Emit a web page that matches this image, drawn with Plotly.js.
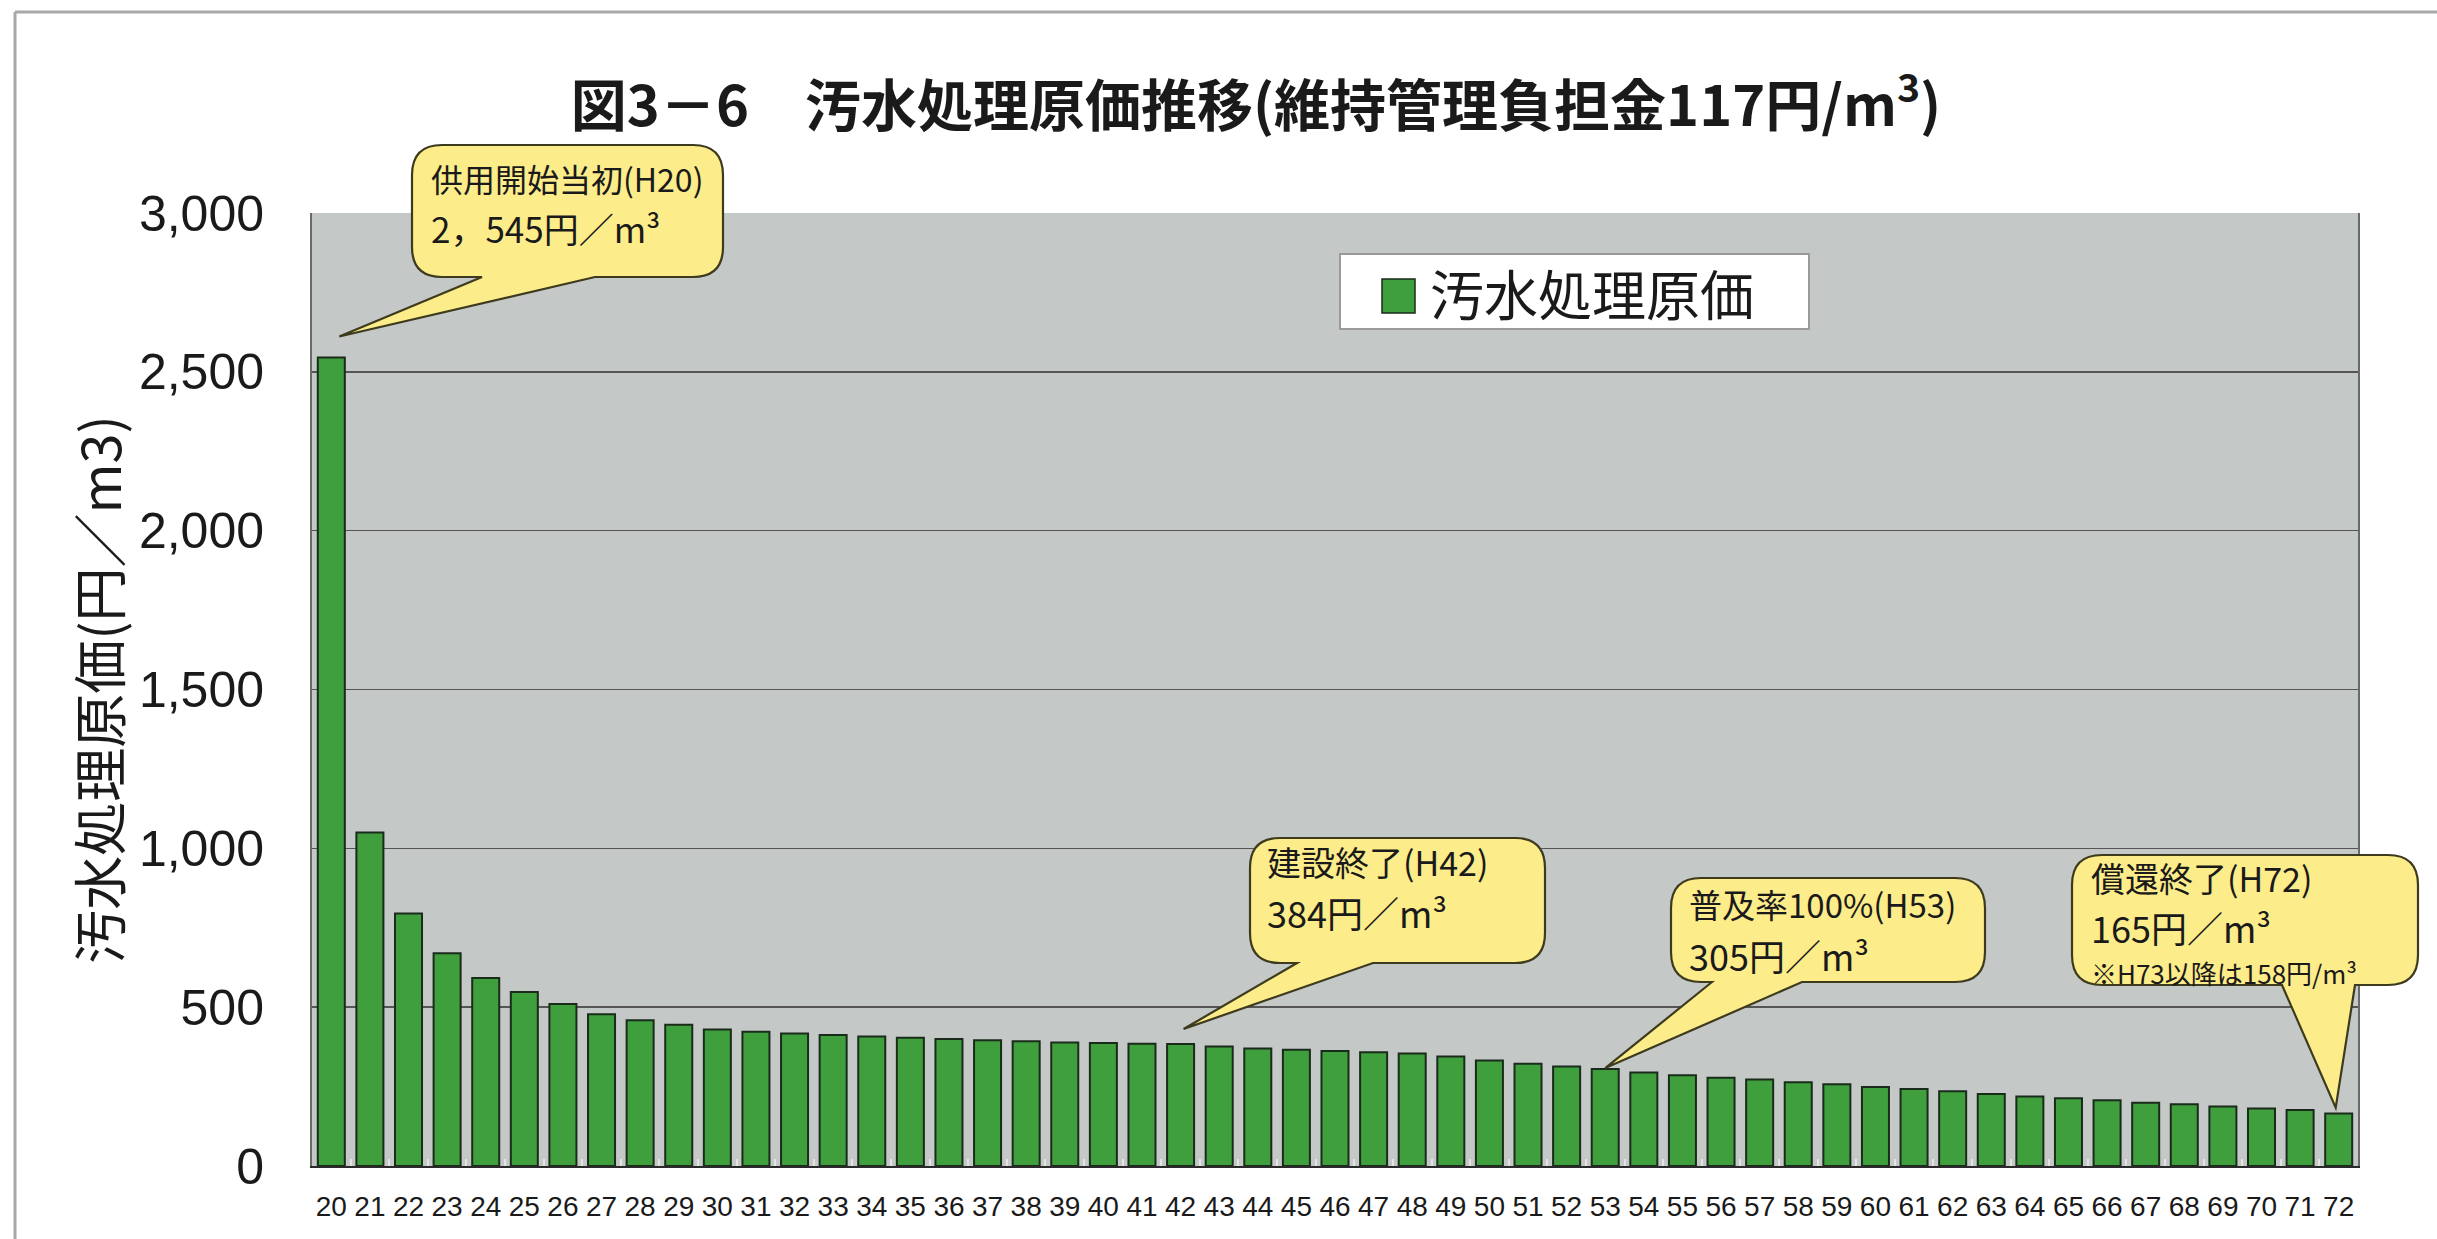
<!DOCTYPE html>
<html>
<head>
<meta charset="utf-8">
<script src="https://cdn.plot.ly/plotly-3.0.1.min.js"></script>
<style>
html,body{margin:0;padding:0;background:#ffffff;}
#chart{width:2437px;height:1239px;}
</style>
</head>
<body>
<div id="chart"></div>
<script>
// ---------------- DATA ----------------
const years = ['20','21','22','23','24','25','26','27','28','29','30','31','32','33','34','35','36','37','38','39','40','41','42','43','44','45','46','47','48','49','50','51','52','53','54','55','56','57','58','59','60','61','62','63','64','65','66','67','68','69','70','71','72'];
const costs = [2545,1050,795,670,592,548,510,478,459,445,430,423,417,412,408,404,400,396,393,389,387,385,384,376,370,366,362,358,354,345,332,322,313,305,294,286,278,272,264,257,249,242,235,227,219,213,207,199,194,187,181,176,165];
const seriesName = '汚水処理原価';
const chartTitle = '図3－6　汚水処理原価推移(維持管理負担金117円/m<sup>3</sup>)';
const yAxisTitle = '汚水処理原価(円／m3)';
const yTickVals = [0,500,1000,1500,2000,2500,3000];
const calloutYears = ['20','42','53','72'];
const calloutLines = [
  ['供用開始当初(H20)', '2，545円／m³'],
  ['建設終了(H42)', '384円／m³'],
  ['普及率100%(H53)', '305円／m³'],
  ['償還終了(H72)', '165円／m³', '※H73以降は158円/m³']
];

// ---------------- LAYOUT GEOMETRY (page pixels) ----------------
const W = 2437, H = 1239;
const M = {l:312, r:79, t:213, b:73};
const PW = W - M.l - M.r, PH = H - M.t - M.b;
const toPX = X => (X - M.l) / PW;
const toPY = Y => (M.t + PH - Y) / PH;

const GREEN = '#3e9f3c';
const YELLOW = '#fcec8a';
const JP = 'Noto Sans CJK JP, Noto Sans, sans-serif';

// bubble geometry: box [x0,x1,y0,y1,r], tail base [xa,xb], tip offset from bar top [dx,dy],
// text left, line centres, line font sizes
const bubbleGeom = [
  {box:[412,723,145,277,30],   tail:[482,595],   tip:[8,-21], tx:430,  ty:[178,227],     ls:[32,35]},
  {box:[1250,1545,838,963,30], tail:[1297,1373], tip:[3,-15], tx:1266, ty:[861,912],     ls:[34,36]},
  {box:[1671,1985,878,982,30], tail:[1712,1802], tip:[0,-1],  tx:1688, ty:[904,955],     ls:[33,36]},
  {box:[2072,2418,855,985,30], tail:[2282,2355], tip:[-3,-6], tx:2090, ty:[877,927,972], ls:[34,36,26]}
];

const trace = {
  type:'bar',
  x: years,
  y: costs,
  name: seriesName,
  marker:{color:GREEN, line:{color:'#1b2b1b', width:2}},
  showlegend:false,
  hoverinfo:'skip'
};

const layout = {
  width:W, height:H,
  margin:M,
  paper_bgcolor:'#ffffff',
  plot_bgcolor:'#c4c9c8',
  bargap:0.30,
  title:{
    text:chartTitle,
    x:0.5154, xref:'container', xanchor:'center',
    y:1 - 106/H, yref:'container', yanchor:'middle',
    font:{family:JP, size:56, color:'#1a1a1a', weight:700}
  },
  xaxis:{
    type:'category',
    showgrid:false,
    tickangle:0,
    ticks:'inside', tickson:'boundaries', ticklen:7, tickcolor:'#e4e4e4', tickwidth:2,
    ticklabelstandoff:14,
    tickfont:{family:'Liberation Sans, Arial, sans-serif', size:28, color:'#1a1a1a'},
    showline:true, linecolor:'#2a2a2a', linewidth:2, mirror:false,
    fixedrange:true
  },
  yaxis:{
    range:[0,3000],
    tickvals:yTickVals,
    tickformat:',d',
    showgrid:true, gridcolor:'#555555', gridwidth:1.5,
    zeroline:false,
    ticks:'', ticklabelstandoff:36,
    tickfont:{family:'Liberation Sans, Arial, sans-serif', size:50, color:'#1a1a1a'},
    showline:true, linecolor:'#6a6a6a', linewidth:2, mirror:true,
    title:{text:yAxisTitle, standoff:0, font:{family:JP, size:54, color:'#1a1a1a'}},
    fixedrange:true
  },
  shapes:[], annotations:[]
};

function bubblePath(b, tail, tip){
  const [x0,x1,y0,y1,r] = b;
  const P = (x,y) => toPX(x).toFixed(6) + ',' + toPY(y).toFixed(6);
  return 'M' + P(tail[0],y1) + ' L' + P(tip[0],tip[1]) + ' L' + P(tail[1],y1) +
    ' L' + P(x1-r,y1) + ' Q' + P(x1,y1) + ' ' + P(x1,y1-r) +
    ' L' + P(x1,y0+r) + ' Q' + P(x1,y0) + ' ' + P(x1-r,y0) +
    ' L' + P(x0+r,y0) + ' Q' + P(x0,y0) + ' ' + P(x0,y0+r) +
    ' L' + P(x0,y1-r) + ' Q' + P(x0,y1) + ' ' + P(x0+r,y1) + ' Z';
}

const gd = document.getElementById('chart');
Plotly.newPlot(gd, [trace], layout, {staticPlot:true, displayModeBar:false}).then(function(){
  const xa = gd._fullLayout.xaxis, ya = gd._fullLayout.yaxis;
  const shapes = [];
  const annotations = [];

  // outer scanned frame (top and left)
  shapes.push({type:'line', xref:'paper', yref:'paper', x0:toPX(15), x1:toPX(W), y0:toPY(12), y1:toPY(12), line:{color:'#a8a8a8', width:3}, layer:'above'});
  shapes.push({type:'line', xref:'paper', yref:'paper', x0:toPX(15), x1:toPX(15), y0:toPY(12), y1:toPY(H), line:{color:'#a8a8a8', width:3}, layer:'above'});

  // legend box
  shapes.push({type:'rect', xref:'paper', yref:'paper', x0:toPX(1340), x1:toPX(1809), y0:toPY(329), y1:toPY(254), fillcolor:'#ffffff', line:{color:'#9a9a9a', width:2}, layer:'above'});
  shapes.push({type:'rect', xref:'paper', yref:'paper', x0:toPX(1382), x1:toPX(1415), y0:toPY(313), y1:toPY(279), fillcolor:GREEN, line:{color:'#1b2b1b', width:1.5}, layer:'above'});
  annotations.push({xref:'paper', yref:'paper', x:toPX(1428), y:toPY(293), xanchor:'left', yanchor:'middle', showarrow:false, text:seriesName, font:{family:JP, size:54, color:'#1a1a1a'}});

  // callouts anchored on the bars through the axis scales
  calloutYears.forEach(function(yr, k){
    const idx = years.indexOf(yr);
    const val = costs[idx];
    const g = bubbleGeom[k];
    const bx = xa._offset + xa.l2p(idx);
    const by = ya._offset + ya.l2p(val);
    const tip = [bx + g.tip[0], by + g.tip[1]];
    shapes.push({type:'path', xref:'paper', yref:'paper', path:bubblePath(g.box, g.tail, tip), fillcolor:YELLOW, line:{color:'#3d3a1e', width:2.2}, layer:'above'});
    calloutLines[k].forEach(function(line, j){
      annotations.push({xref:'paper', yref:'paper', x:toPX(g.tx), y:toPY(g.ty[j]), xanchor:'left', yanchor:'middle', showarrow:false, borderpad:0, text:line, font:{family:JP, size:g.ls[j], color:'#1a1a1a'}});
    });
  });

  return Plotly.relayout(gd, {shapes:shapes, annotations:annotations});
});
</script>
</body>
</html>
